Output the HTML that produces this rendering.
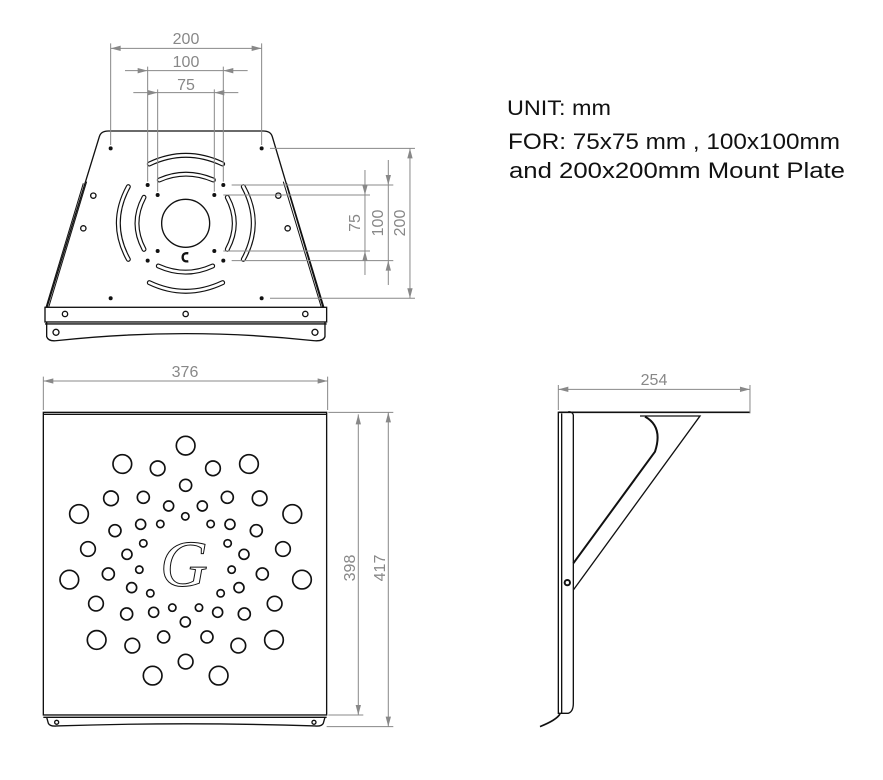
<!DOCTYPE html>
<html><head><meta charset="utf-8"><style>
html,body{margin:0;padding:0;background:#fff;}
svg{display:block;}
text{font-family:"Liberation Sans",sans-serif;}
</style></head><body>
<svg width="883" height="780" viewBox="0 0 883 780" xmlns="http://www.w3.org/2000/svg">
<!-- Text -->
<text x="507" y="115" font-size="21" fill="#111" textLength="104" lengthAdjust="spacingAndGlyphs">UNIT: mm</text>
<text x="508" y="149" font-size="22" fill="#111" textLength="332" lengthAdjust="spacingAndGlyphs">FOR: 75x75 mm , 100x100mm</text>
<text x="509" y="178" font-size="22" fill="#111" textLength="336" lengthAdjust="spacingAndGlyphs">and 200x200mm Mount Plate</text>

<!-- TOP VIEW in zoom coords -->
<g transform="translate(30,20) scale(0.3333)" fill="none" stroke="#111" stroke-width="4">
  <path d="M235,333 L700,333 Q722,333 727,350 L880,865 L50,865 L208,350 Q213,333 235,333 Z" fill="#fff"/>
  <path d="M170,485 L55,865 M160,490 L48,862 M760,485 L875,865 M770,490 L882,862" stroke-width="3"/>
  <rect x="45" y="862" width="845" height="44" fill="#fff"/>
  <line x1="45" y1="912" x2="890" y2="912"/>
  <path d="M50,906 L50,950 Q55,965 80,962 Q467,920 850,962 Q880,965 885,950 L885,906"/>
  <circle cx="467" cy="610" r="72"/>
  <g stroke-width="15" stroke-linecap="round">
    <path d="M358,432 Q467,380 578,432"/><path d="M388,480 Q467,445 550,480"/>
    <path d="M385,738 Q467,775 548,738"/><path d="M358,788 Q467,840 578,788"/>
    <path d="M295,500 Q235,610 295,718"/><path d="M342,532 Q300,610 342,688"/>
    <path d="M640,500 Q700,610 640,718"/><path d="M592,532 Q634,610 592,688"/>
  </g>
  <g stroke="#fff" stroke-width="8" stroke-linecap="round">
    <path d="M358,432 Q467,380 578,432"/><path d="M388,480 Q467,445 550,480"/>
    <path d="M385,738 Q467,775 548,738"/><path d="M358,788 Q467,840 578,788"/>
    <path d="M295,500 Q235,610 295,718"/><path d="M342,532 Q300,610 342,688"/>
    <path d="M640,500 Q700,610 640,718"/><path d="M592,532 Q634,610 592,688"/>
  </g>
  <path d="M475,700 Q458,698 458,712 Q458,726 475,724" stroke-width="7"/>
  <g fill="#111" stroke="none">
    <circle cx="242" cy="385" r="6"/><circle cx="695" cy="385" r="6"/><circle cx="242" cy="835" r="6"/><circle cx="695" cy="835" r="6"/>
    <circle cx="353" cy="495" r="6"/><circle cx="580" cy="495" r="6"/><circle cx="353" cy="722" r="6"/><circle cx="580" cy="722" r="6"/>
    <circle cx="383" cy="525" r="6"/><circle cx="553" cy="525" r="6"/><circle cx="383" cy="693" r="6"/><circle cx="553" cy="693" r="6"/>
  </g>
  <circle cx="190" cy="527" r="8"/><circle cx="160" cy="625" r="8"/><circle cx="745" cy="527" r="8"/><circle cx="773" cy="625" r="8"/>
  <circle cx="105" cy="882" r="8"/><circle cx="467" cy="882" r="8"/><circle cx="826" cy="882" r="8"/>
  <circle cx="78" cy="937" r="9"/><circle cx="855" cy="937" r="9"/>
  <g stroke="#888" stroke-width="3">
    <path d="M242,375 V70 M695,375 V70 M353,485 V140 M580,485 V140 M383,515 V208 M553,515 V208"/>
    <line x1="242" y1="85" x2="695" y2="85"/>
    <line x1="285" y1="152" x2="653" y2="152"/>
    <line x1="310" y1="218" x2="625" y2="218"/>
    <path d="M720,385 H1155 M605,495 H1090 M580,525 H1020 M580,693 H1020 M605,722 H1090 M720,835 H1155"/>
    <line x1="1140" y1="385" x2="1140" y2="835"/>
    <line x1="1075" y1="420" x2="1075" y2="795"/>
    <line x1="1005" y1="450" x2="1005" y2="765"/>
  </g>
  <g fill="#888" stroke="none">
    <path d="M242,85 l30,-8 v16z M695,85 l-30,-8 v16z"/>
    <path d="M353,152 l-30,-8 v16z M580,152 l30,-8 v16z"/>
    <path d="M383,218 l-30,-8 v16z M553,218 l30,-8 v16z"/>
    <path d="M1140,385 l-8,30 h16z M1140,835 l-8,-30 h16z"/>
    <path d="M1075,495 l-8,-30 h16z M1075,722 l-8,30 h16z"/>
    <path d="M1005,525 l-8,-30 h16z M1005,693 l-8,30 h16z"/>
  </g>
</g>
<g fill="#888" font-size="16">
  <text x="186" y="44" text-anchor="middle">200</text>
  <text x="186" y="67" text-anchor="middle">100</text>
  <text x="186" y="90" text-anchor="middle">75</text>
  <text transform="translate(405,223) rotate(-90)" text-anchor="middle">200</text>
  <text transform="translate(383,223) rotate(-90)" text-anchor="middle">100</text>
  <text transform="translate(360,223) rotate(-90)" text-anchor="middle">75</text>
  <text x="185" y="377" text-anchor="middle">376</text>
  <text transform="translate(355,568) rotate(-90)" text-anchor="middle">398</text>
  <text transform="translate(385,568) rotate(-90)" text-anchor="middle">417</text>
  <text x="654" y="385" text-anchor="middle">254</text>
</g>

<!-- FRONT VIEW -->
<g transform="translate(30,360) scale(0.3333)" fill="none" stroke="#111" stroke-width="4">
  <rect x="40" y="157" width="850" height="908"/>
  <line x1="40" y1="163" x2="890" y2="163"/>
  <line x1="40" y1="1072" x2="890" y2="1072"/>
  <path d="M50,1072 L55,1090 Q60,1100 80,1098 Q467,1085 855,1098 Q875,1100 880,1090 L885,1072"/>
  <circle cx="80" cy="1087" r="6"/><circle cx="852" cy="1087" r="6"/>
  <g stroke-width="5">
  <circle cx="467" cy="257" r="28"/><circle cx="277" cy="312" r="28"/><circle cx="657" cy="312" r="28"/><circle cx="383" cy="325" r="22"/><circle cx="549" cy="325" r="22"/><circle cx="467" cy="376" r="18"/><circle cx="243" cy="415" r="22"/><circle cx="340" cy="412" r="18"/><circle cx="592" cy="412" r="18"/><circle cx="689" cy="415" r="22"/><circle cx="147" cy="462" r="28"/><circle cx="787" cy="462" r="28"/><circle cx="416" cy="438" r="15"/><circle cx="517" cy="438" r="15"/><circle cx="466" cy="469" r="11"/><circle cx="332" cy="493" r="15"/><circle cx="391" cy="492" r="11"/><circle cx="542" cy="492" r="11"/><circle cx="600" cy="493" r="15"/><circle cx="255" cy="512" r="18"/><circle cx="679" cy="512" r="18"/><circle cx="340" cy="550" r="11"/><circle cx="593" cy="550" r="11"/><circle cx="174" cy="567" r="22"/><circle cx="759" cy="567" r="22"/><circle cx="291" cy="583" r="15"/><circle cx="642" cy="583" r="15"/><circle cx="235" cy="642" r="18"/><circle cx="697" cy="642" r="18"/><circle cx="118" cy="659" r="28"/><circle cx="816" cy="659" r="28"/><circle cx="328" cy="629" r="11"/><circle cx="605" cy="629" r="11"/><circle cx="305" cy="683" r="15"/><circle cx="627" cy="683" r="15"/><circle cx="361" cy="700" r="11"/><circle cx="572" cy="700" r="11"/><circle cx="198" cy="731" r="22"/><circle cx="734" cy="731" r="22"/><circle cx="427" cy="743" r="11"/><circle cx="507" cy="743" r="11"/><circle cx="290" cy="762" r="18"/><circle cx="371" cy="757" r="15"/><circle cx="563" cy="757" r="15"/><circle cx="643" cy="762" r="18"/><circle cx="466" cy="786" r="15"/><circle cx="200" cy="840" r="28"/><circle cx="732" cy="840" r="28"/><circle cx="307" cy="857" r="22"/><circle cx="401" cy="831" r="18"/><circle cx="531" cy="831" r="18"/><circle cx="625" cy="857" r="22"/><circle cx="467" cy="905" r="22"/><circle cx="368" cy="947" r="28"/><circle cx="566" cy="947" r="28"/>
  </g>
  <g stroke="#888" stroke-width="3">
    <path d="M40,150 V50 M893,150 V50"/>
    <line x1="40" y1="63" x2="893" y2="63"/>
    <path d="M895,157 H1090 M895,1065 H1000 M890,1100 H1090"/>
    <line x1="985" y1="163" x2="985" y2="1065"/>
    <line x1="1075" y1="157" x2="1075" y2="1100"/>
  </g>
  <g fill="#888" stroke="none">
    <path d="M40,63 l30,-8 v16z M893,63 l-30,-8 v16z"/>
    <path d="M985,163 l-8,30 h16z M985,1065 l-8,-30 h16z"/>
    <path d="M1075,157 l-8,30 h16z M1075,1100 l-8,-30 h16z"/>
  </g>
</g>
<text x="184" y="586" text-anchor="middle" style="font-family:'Liberation Serif',serif;font-style:italic;font-size:66px" fill="#fff" stroke="#111" stroke-width="1">G</text>

<!-- SIDE VIEW -->
<g transform="translate(530,360) scale(0.3333)" fill="none" stroke="#111" stroke-width="4">
  <path d="M85,157 H660" stroke-width="5"/>
  <path d="M85,155 V1060 L115,1060 Q130,1055 130,1030 V165 Q128,155 115,155"/>
  <line x1="95" y1="160" x2="95" y2="1060"/>
  <path d="M330,168 H510 L130,690"/>
  <path d="M345,170 Q400,200 375,275 L130,610" stroke-width="6"/>
  <circle cx="112" cy="668" r="8" stroke-width="6"/>
  <path d="M90,1062 Q80,1080 30,1100" stroke-width="5"/>
  <g stroke="#888" stroke-width="3">
    <path d="M85,150 V75 M660,160 V75"/>
    <line x1="85" y1="88" x2="660" y2="88"/>
  </g>
  <g fill="#888" stroke="none"><path d="M85,88 l30,-8 v16z M660,88 l-30,-8 v16z"/></g>
</g>
</svg>
</body></html>
